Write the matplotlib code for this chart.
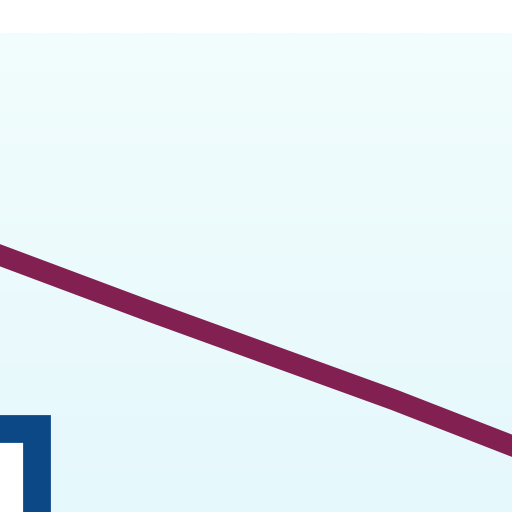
import numpy as np
import matplotlib.pyplot as plt
from matplotlib.colors import LinearSegmentedColormap

# line series (values on a 0-100 scale)
line_x = [-0.2, 2.9, 7.7, 10.2]
line_y = [54.4, 42.0, 23.4, 13.0]

# partially visible bar
bar_x = [-0.14]
bar_w = [1.72]
bar_h = [22.4]
bar_bottom = [-5]

fig = plt.figure(figsize=(5.12, 5.12), dpi=100)
fig.patch.set_facecolor('white')
ax = fig.add_axes([0, 0, 1, 479 / 512])

# soft background gradient
cmap = LinearSegmentedColormap.from_list('bg', ['#e5f8fc', '#f2fdfd'])
grad = np.linspace(0, 1, 256).reshape(-1, 1)
ax.imshow(grad, cmap=cmap, aspect='auto', origin='lower',
          extent=[0, 1, 0, 1], transform=ax.transAxes, zorder=0)

ax.bar(bar_x, bar_h, width=bar_w, bottom=bar_bottom, color='white',
       edgecolor='#0c4886', linewidth=20, zorder=2)

ax.plot(line_x, line_y, color='#822052', linewidth=15,
        solid_joinstyle='round', zorder=3)

ax.set_xlim(0, 10)
ax.set_ylim(0, 100)
ax.axis('off')

fig.savefig('out.png', dpi=100)
